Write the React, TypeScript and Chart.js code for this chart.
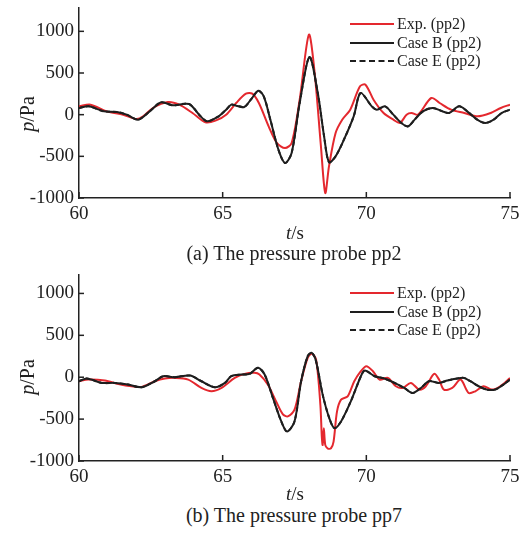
import React, { useEffect, useRef } from "react";
import { Chart, registerables } from "chart.js";
Chart.register(...registerables);

// ---------- data ----------
const xTicks = [60, 65, 70, 75];
const yTicks = [-1000, -500, 0, 500, 1000];

// Panel (a) pp2 — experiment
const tA_exp = [60.0, 60.4, 60.97, 61.54, 62.0, 62.23, 62.57, 63.09, 63.49, 63.95, 64.4, 64.75, 65.12, 65.47, 65.81, 66.03, 66.26, 66.6, 66.89, 67.17, 67.4, 67.68, 68.0, 68.19, 68.42, 68.57, 68.7, 68.93, 69.16, 69.44, 69.78, 69.97, 70.25, 70.6, 70.94, 71.17, 71.4, 71.57, 71.8, 72.26, 72.55, 72.95, 73.41, 73.87, 74.33, 74.68, 75.0];
const pA_exp = [100, 120, 40, 0, -52, -20, 80, 152, 120, 20, -92, -72, 0, 140, 252, 252, 140, -140, -340, -400, -340, 180, 960, 540, -380, -940, -620, -220, -60, 60, 340, 360, 180, 20, -60, -100, 0, 20, 0, 200, 140, 60, 20, -20, 20, 80, 120];

// Panel (a) pp2 — Case B
const tA_caseB = [60.0, 60.34, 60.86, 61.32, 61.66, 62.06, 62.46, 62.86, 63.26, 63.83, 64.18, 64.46, 64.86, 65.12, 65.3, 65.47, 65.75, 65.98, 66.24, 66.43, 66.66, 66.94, 67.17, 67.4, 67.68, 68.02, 68.31, 68.53, 68.7, 68.93, 69.22, 69.56, 69.8, 70.19, 70.37, 70.65, 70.94, 71.22, 71.45, 71.68, 71.97, 72.31, 72.65, 72.88, 73.23, 73.51, 73.86, 74.14, 74.43, 74.71, 75.0];
const pA_caseB = [80, 100, 40, 32, 0, -60, 40, 148, 112, 128, 0, -80, -20, 60, 120, 108, 92, 180, 288, 220, -60, -420, -580, -460, 140, 692, 260, -260, -572, -500, -300, -20, 260, 100, 60, 100, 0, -100, -140, -60, 40, 80, 40, 20, 100, 40, -60, -100, -60, 20, 60];

// Panel (a) pp2 — Case E (coincides with Case B)
const tA_caseE = tA_caseB;
const pA_caseE = pA_caseB;

// Panel (b) pp7 — experiment
const tB_exp = [60.0, 60.32, 60.9, 61.37, 61.83, 62.18, 62.64, 62.99, 63.34, 63.8, 64.26, 64.61, 64.96, 65.42, 65.76, 66.11, 66.28, 66.57, 66.86, 67.09, 67.27, 67.5, 67.73, 67.96, 68.1, 68.25, 68.4, 68.45, 68.48, 68.52, 68.57, 68.65, 68.77, 68.86, 68.98, 69.12, 69.35, 69.58, 69.81, 70.0, 70.23, 70.46, 70.75, 71.03, 71.26, 71.55, 71.84, 72.07, 72.36, 72.53, 72.7, 72.99, 73.28, 73.56, 73.79, 74.08, 74.37, 74.66, 75.0];
const pB_exp = [-48, -28, -40, -80, -108, -116, -48, -16, -8, -28, -128, -168, -128, -8, 40, 52, 32, -88, -288, -440, -468, -388, -48, 232, 280, 212, -328, -708, -808, -608, -808, -848, -848, -768, -408, -268, -228, -48, 72, 132, 72, -28, -8, -108, -128, -68, -148, -108, 40, -28, -148, -128, -28, -188, -168, -108, -148, -108, -10];

// Panel (b) pp7 — Case B
const tB_caseB = [60.0, 60.27, 60.79, 61.25, 61.71, 62.18, 62.64, 62.93, 63.34, 63.86, 64.26, 64.73, 65.08, 65.3, 65.65, 65.94, 66.23, 66.46, 66.75, 67.04, 67.24, 67.5, 67.73, 67.96, 68.1, 68.25, 68.48, 68.71, 68.89, 69.12, 69.46, 69.81, 69.95, 70.29, 70.63, 70.98, 71.32, 71.61, 71.9, 72.18, 72.53, 72.82, 73.16, 73.39, 73.62, 73.91, 74.2, 74.48, 74.77, 75.0];
const pB_caseB = [-48, -16, -68, -68, -88, -120, -48, 12, 0, 20, -48, -120, -68, 12, 32, 40, 112, 32, -248, -528, -648, -528, -48, 252, 292, 192, -208, -488, -608, -528, -288, 12, 80, 12, -16, -68, -128, -188, -128, -48, -68, -40, -16, -8, -48, -108, -148, -148, -88, -28];

// Panel (b) pp7 — Case E (coincides with Case B)
const tB_caseE = tB_caseB;
const pB_caseE = pB_caseB;

const legendLabels = ["Exp. (pp2)", "Case B (pp2)", "Case E (pp2)"];

// ---------- styles ----------
const SERIF = '"Liberation Serif", "Times New Roman", serif';
const RED = "rgb(228, 40, 46)";
const BLACK = "rgb(30, 30, 30)";
const AXIS = "#222";

const zip = (t: number[], p: number[]) => t.map((x, i) => ({ x, y: p[i] }));

const inwardTicks = {
  id: "inwardTicks",
  afterDraw(chart: any) {
    const { ctx, chartArea, scales } = chart;
    ctx.save();
    ctx.strokeStyle = AXIS;
    ctx.lineWidth = 1.5;
    for (const v of xTicks) {
      const px = scales.x.getPixelForValue(v);
      ctx.beginPath();
      ctx.moveTo(px, chartArea.bottom);
      ctx.lineTo(px, chartArea.bottom - 6);
      ctx.stroke();
    }
    for (const v of yTicks) {
      const py = scales.y.getPixelForValue(v);
      ctx.beginPath();
      ctx.moveTo(chartArea.left, py);
      ctx.lineTo(chartArea.left + 5, py);
      ctx.stroke();
    }
    ctx.restore();
  },
};

type PanelProps = {
  top: number;
  height: number;
  xHeight: number;
  yMax: number;
  exp: { x: number; y: number }[];
  caseB: { x: number; y: number }[];
  caseE: { x: number; y: number }[];
};

function Panel({ top, height, xHeight, yMax, exp, caseB, caseE }: PanelProps) {
  const ref = useRef<HTMLCanvasElement>(null);
  useEffect(() => {
    if (!ref.current) return;
    const line = (label: string, data: any[], color: string, order: number, dash: number[] = []) => ({
      label,
      data,
      borderColor: color,
      backgroundColor: color,
      borderWidth: 2,
      borderDash: dash,
      pointRadius: 0,
      tension: 0.3,
      fill: false,
      order,
    });
    const chart = new Chart(ref.current, {
      type: "line",
      data: {
        datasets: [
          line(legendLabels[0], exp, RED, 3),
          line(legendLabels[1], caseB, BLACK, 2),
          line(legendLabels[2], caseE, BLACK, 1, [4, 3]),
        ],
      },
      options: {
        animation: false,
        responsive: false,
        layout: { padding: { top: 8, right: 22, left: 0, bottom: 0 } },
        plugins: { legend: { display: false }, tooltip: { enabled: false } },
        scales: {
          x: {
            type: "linear",
            min: 60,
            max: 75,
            afterBuildTicks: (s: any) => {
              s.ticks = xTicks.map((value) => ({ value }));
            },
            afterFit: (s: any) => {
              s.height = xHeight;
              s.paddingLeft = 0;
              s.paddingRight = 0;
            },
            grid: { display: false, drawTicks: false },
            border: { display: true, color: AXIS, width: 1.5 },
            ticks: {
              font: { family: SERIF, size: 19 },
              color: AXIS,
              padding: 5,
              maxRotation: 0,
              autoSkip: false,
              callback: (v: any) => String(v),
            },
          },
          y: {
            type: "linear",
            min: -1000,
            max: yMax,
            afterBuildTicks: (s: any) => {
              s.ticks = yTicks.map((value) => ({ value }));
            },
            afterFit: (s: any) => {
              s.width = 79;
              s.paddingTop = 0;
              s.paddingBottom = 0;
            },
            grid: { display: false, drawTicks: false },
            border: { display: true, color: AXIS, width: 1.5 },
            ticks: {
              font: { family: SERIF, size: 19 },
              color: AXIS,
              padding: 5,
              autoSkip: false,
              callback: (v: any) => String(v),
            },
          },
        },
      },
      plugins: [inwardTicks],
    });
    return () => chart.destroy();
  }, []);
  return (
    <canvas
      ref={ref}
      width={532}
      height={height}
      style={{ position: "absolute", left: 0, top, width: 532, height }}
    />
  );
}

function Legend({ top }: { top: number }) {
  const rows = [
    { label: legendLabels[0], style: `2px solid ${RED}` },
    { label: legendLabels[1], style: `2px solid ${BLACK}` },
    { label: legendLabels[2], style: `2px dashed ${BLACK}` },
  ];
  return (
    <>
      {rows.map((r, i) => (
        <div
          key={i}
          style={{
            position: "absolute",
            left: 350,
            top: top + i * 18.5 - 10,
            height: 20,
            display: "flex",
            alignItems: "center",
            fontFamily: SERIF,
            fontSize: 16,
            color: AXIS,
            whiteSpace: "nowrap",
          }}
        >
          <div style={{ width: 44, borderTop: r.style, marginRight: 3 }} />
          <span>{r.label}</span>
        </div>
      ))}
    </>
  );
}

function Centered({ x, y, rotate, size, children }: any) {
  return (
    <div
      style={{
        position: "absolute",
        left: x,
        top: y,
        transform: `translate(-50%, -50%)${rotate ? " rotate(-90deg)" : ""}`,
        fontFamily: SERIF,
        fontSize: size,
        color: AXIS,
        whiteSpace: "nowrap",
        lineHeight: 1,
      }}
    >
      {children}
    </div>
  );
}

export default function App() {
  return (
    <div
      style={{
        position: "absolute",
        left: 0,
        top: 0,
        width: 532,
        height: 535,
        background: "#fff",
        overflow: "hidden",
      }}
    >
      <Panel top={0} height={225} xHeight={27} yMax={1280} exp={zip(tA_exp, pA_exp)} caseB={zip(tA_caseB, pA_caseB)} caseE={zip(tA_caseE, pA_caseE)} />
      <Panel top={267} height={221} xHeight={27} yMax={1220} exp={zip(tB_exp, pB_exp)} caseB={zip(tB_caseB, pB_caseB)} caseE={zip(tB_caseE, pB_caseE)} />
      <Legend top={24} />
      <Legend top={293} />
      <Centered x={27} y={114} rotate size={20}>
        <i>p</i>/Pa
      </Centered>
      <Centered x={27} y={377} rotate size={20}>
        <i>p</i>/Pa
      </Centered>
      <Centered x={295} y={232} size={19}>
        <i>t</i>/s
      </Centered>
      <Centered x={295} y={493} size={19}>
        <i>t</i>/s
      </Centered>
      <Centered x={294} y={253} size={20}>
        (a) The pressure probe pp2
      </Centered>
      <Centered x={294} y={515} size={20}>
        (b) The pressure probe pp7
      </Centered>
    </div>
  );
}
